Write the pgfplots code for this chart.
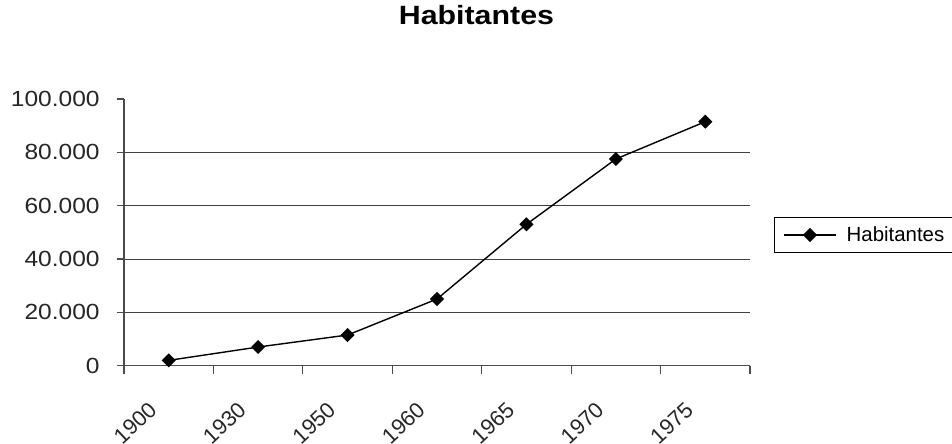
\documentclass[border=0pt]{standalone}
\usepackage{fontspec}
\setmainfont{Liberation Sans}
\usepackage{pgfplots}
\pgfplotsset{compat=1.18}
\begin{document}
\begin{tikzpicture}
\useasboundingbox (-124bp,-78.3bp) rectangle (828bp,365.7bp);
\begin{axis}[
  at={(0,0)}, anchor=south west,
  scale only axis, width=626bp, height=266.7bp,
  xmin=-0.5, xmax=6.5, ymin=0, ymax=100000,
  axis x line*=bottom, axis y line*=left,
  axis line style={color=black!70, line width=1.2bp, -},
  every tick/.style={color=black!70, line width=1.2bp},
  tick align=outside,
  xtick={0,...,6},
  xticklabels={1900,1930,1950,1960,1965,1970,1975},
  major x tick style={draw=none},
  minor xtick={-0.5,0.5,...,6.5},
  minor tick length=8bp,
  major tick length=7bp,
  ytick={0,20000,40000,60000,80000,100000},
  yticklabels={0,20.000,40.000,60.000,80.000,100.000},
  scaled y ticks=false,
  tick label style={font=\fontsize{22}{24}\selectfont, color=black!85},
  yticklabel style={xscale=1.12, xshift=-12bp},
  xticklabel style={xshift=-21bp, yshift=-23bp, rotate=43, anchor=north east},
  extra y ticks={20000,40000,60000,80000},
  extra y tick labels={},
  extra y tick style={grid=major, major tick length=0pt},
  major grid style={color=black!75, line width=1bp},
  title={Habitantes},
  title style={at={(axis description cs:0.563,1)}, anchor=base, yshift=69bp,
    font=\fontsize{26.5}{30}\selectfont\bfseries, xscale=1.15},
  legend style={at={(axis description cs:1.038,0.49)}, anchor=west,
    draw=black, line width=1bp, font=\fontsize{20.5}{24}\selectfont,
    inner xsep=9bp, inner ysep=7bp},
  legend image code/.code={%
    \draw[#1, mark repeat=2, mark phase=2] plot coordinates {(0bp,0bp) (26bp,0bp) (52bp,0bp)};
    \path (60bp,0bp);},
]
\addplot[black, line width=1.4bp, mark=square*, mark size=4.3bp, mark options={solid, rotate=45}]
  coordinates {(0,2000) (1,7000) (2,11500) (3,25000) (4,53000) (5,77500) (6,91500)};
\addlegendentry{Habitantes}
\end{axis}
\end{tikzpicture}
\end{document}
